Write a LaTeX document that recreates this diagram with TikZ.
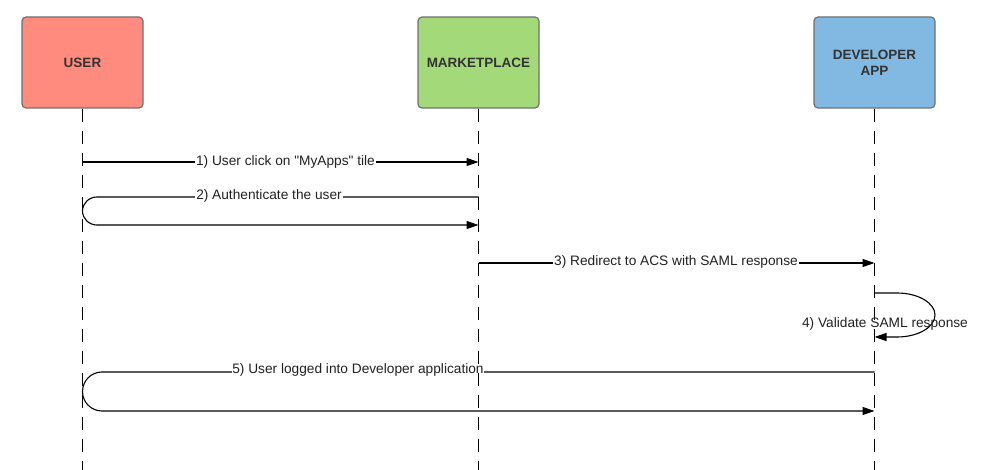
\documentclass[tikz,border=0pt]{standalone}
\usepackage{fontspec}
\setmainfont{Liberation Sans}
\newfontfamily\straightq{Liberation Sans}
\usetikzlibrary{arrows.meta}
\definecolor{userfill}{HTML}{FF8A7E}
\definecolor{mktfill}{HTML}{A4D97A}
\definecolor{devfill}{HTML}{82B9E3}
\definecolor{boxline}{HTML}{707070}
\definecolor{boxtext}{HTML}{333333}
\definecolor{msgtext}{HTML}{222222}
\begin{document}
\begin{tikzpicture}[x=1pt,y=-1pt,
  actor/.style={draw=boxline,line width=1.2pt,rounded corners=4pt,minimum width=121pt,minimum height=91pt,
    font=\fontsize{13.5}{16}\selectfont\bfseries,text=boxtext,align=center,inner sep=0pt},
  lifeline/.style={line width=1.3pt,dash pattern=on 13pt off 9pt},
  msg/.style={line width=1.1pt,-{Triangle[length=12pt,width=8pt]}},
  msglbl/.style={font=\fontsize{13.7}{16}\selectfont,text=msgtext,fill=white,inner sep=0.8pt},
  freelbl/.style={font=\fontsize{13.7}{16}\selectfont,text=msgtext,inner sep=0pt}]
\useasboundingbox (0,0) rectangle (989,470);
% actors
\node[actor,fill=userfill] (user) at (82.5,62.5) {USER};
\node[actor,fill=mktfill] (mkt) at (478.5,62.5) {MARKETPLACE};
\node[actor,fill=devfill] (dev) at (874.5,62.5) {DEVELOPER\\APP};
% lifeline ends
\coordinate (userEnd) at (82.5,470);
\coordinate (mktEnd) at (478.5,470);
\coordinate (devEnd) at (874.5,470);
% message points
\coordinate (u1) at (82.5,162);   \coordinate (m1) at (478.5,162);
\coordinate (m2a) at (478.5,197); \coordinate (u2a) at (97,197);
\coordinate (u2b) at (97,225);    \coordinate (m2b) at (478.5,225);
\coordinate (m3) at (478.5,263);  \coordinate (d3) at (874.5,263);
\coordinate (d4a) at (874.5,293); \coordinate (t4a) at (897,293);
\coordinate (t4b) at (897,337);   \coordinate (d4b) at (874.5,337);
\coordinate (d5a) at (874.5,372); \coordinate (u5a) at (102,372);
\coordinate (u5b) at (102,411);   \coordinate (d5b) at (874.5,411);
% 1
\draw[msg] (u1) -- (m1);
\node[msglbl] (l1) at (285.5,162) {1) User click on {\straightq"}MyApps{\straightq"} tile};
% 2
\draw[msg] (m2a) -- (u2a) arc[start angle=-90,end angle=-270,x radius=14.5,y radius=14] -- (m2b);
\node[msglbl] (l2) at (269,196) {2) Authenticate the user};
% 3
\draw[msg] (m3) -- (d3);
\node[msglbl] (l3) at (676,262) {3) Redirect to ACS with SAML response};
% 4
\draw[msg] (d4a) -- (t4a) arc[start angle=-90,end angle=90,x radius=38,y radius=22] -- (d4b);
% 5
\draw[msg] (d5a) -- (u5a) arc[start angle=-90,end angle=-270,x radius=19.5,y radius=19.5] -- (d5b);
\node[msglbl] (l5) at (358,370) {5) User logged into Developer application};
% lifelines
\draw[lifeline] (user.south) -- (userEnd);
\draw[lifeline] (mkt.south) -- (mktEnd);
\draw[lifeline] (dev.south) -- (devEnd);
\node[freelbl] (l4) at (885,324) {4) Validate SAML response};
\end{tikzpicture}
\end{document}
